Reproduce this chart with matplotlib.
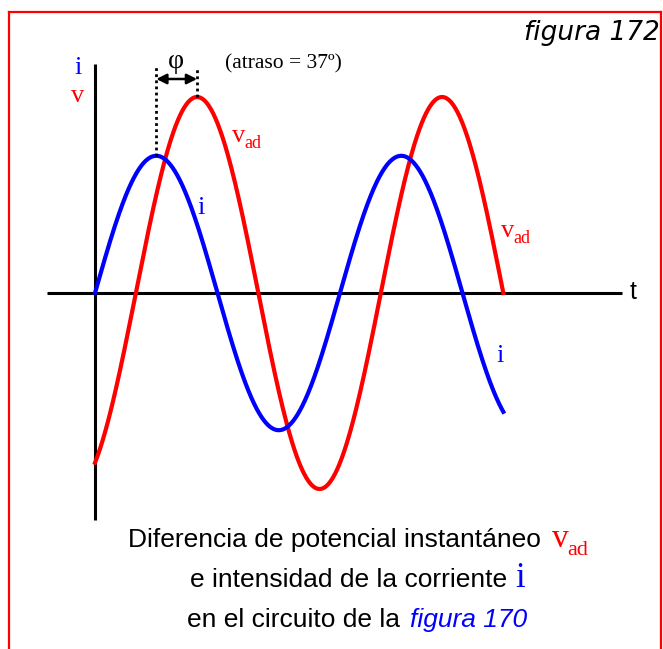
import numpy as np
import matplotlib
matplotlib.use("Agg")
import matplotlib.pyplot as plt

# ---- data ----
i_peak = 0.70          # current amplitude (relative)
v_peak = 1.00          # voltage amplitude (relative)
lag_deg = 60           # visual lag of v behind i (degrees)
t_end_deg = 600        # curves end angle (degrees)
lag_label = "(atraso = 37º)"

W, H = 663, 649
DPI = 100
fig = plt.figure(figsize=(W / DPI, H / DPI), dpi=DPI)
ax = fig.add_axes([0, 0, 1, 1])
ax.set_axis_off()

# pixel mapping for axes: origin at (95,293); 245 px per 360 deg; 196 px per unit
x0, y0, ppd, ppu = 95, 293, 245 / 360, 196
ax.set_xlim(-x0 / ppd, (W - x0) / ppd)
ax.set_ylim(-(H - y0) / ppu, y0 / ppu)

def fx(px):
    return px / W
def fy(py):
    return 1 - py / H

RED = "#ff0000"
BLUE = "#0000ff"

# border (open at bottom)
fig.add_artist(plt.Line2D([fx(9), fx(9)], [fy(649), fy(12)], color=RED, lw=1.6))
fig.add_artist(plt.Line2D([fx(9), fx(661)], [fy(12), fy(12)], color=RED, lw=1.6))
fig.add_artist(plt.Line2D([fx(661), fx(661)], [fy(12), fy(649)], color=RED, lw=1.6))

# axes lines
ax.plot([(47 - x0) / ppd, (622 - x0) / ppd], [0, 0], color="black", lw=2.2, solid_capstyle="butt")
ax.plot([0, 0], [-(520 - y0) / ppu, (y0 - 64) / ppu], color="black", lw=2.2, solid_capstyle="butt")

# curves
th = np.linspace(0, t_end_deg, 800)
i_curve = i_peak * np.sin(np.radians(th))
v_curve = v_peak * np.sin(np.radians(th - lag_deg))
ax.plot(th, v_curve, color=RED, lw=3.0)
ax.plot(th, i_curve, color=BLUE, lw=3.0)

# dotted lines at the peaks and phase arrow
ytop = (y0 - 67) / ppu
yarr = (y0 - 79) / ppu
ax.plot([90, 90], [i_peak, ytop], color="black", lw=2.0, ls=(0, (1, 1.2)))
ax.plot([90 + lag_deg, 90 + lag_deg], [v_peak, ytop], color="black", lw=2.0, ls=(0, (1, 1.2)))
ax.annotate("", xy=(90 + lag_deg, yarr), xytext=(90, yarr),
            arrowprops=dict(arrowstyle="<|-|>", color="black", lw=1.8,
                            mutation_scale=15, shrinkA=0, shrinkB=0))

serif = "Liberation Serif"
sans = "Liberation Sans"

fig.text(fx(176), fy(61), "φ", family=serif, fontsize=20, ha="center", va="center")
fig.text(fx(225), fy(64), lag_label, family=serif, fontsize=15.5, ha="left", va="center")

# axis labels
fig.text(fx(78), fy(68), "i", family=serif, fontsize=19, color=BLUE, ha="center", va="center")
fig.text(fx(78), fy(96), "v", family=serif, fontsize=19, color=RED, ha="center", va="center")
fig.text(fx(633), fy(292), "t", family=sans, fontsize=18, ha="center", va="center")

# curve labels
def vad(x, y, size=19, sub=13, color=RED):
    fig.text(fx(x), fy(y), "v", family=serif, fontsize=size, color=color, ha="left", va="baseline")
    fig.text(fx(x + size * 0.64), fy(y + size * 0.33), "ad", family=serif, fontsize=sub,
             color=color, ha="left", va="baseline")

vad(232, 142)
vad(501, 237)
fig.text(fx(201), fy(208), "i", family=serif, fontsize=19, color=BLUE, ha="center", va="center")
fig.text(fx(500), fy(356), "i", family=serif, fontsize=19, color=BLUE, ha="center", va="center")

# title
fig.text(fx(660), fy(33), "figura 172", family="DejaVu Sans", style="italic",
         fontsize=19, ha="right", va="center")

# caption
cap = 19.0
fig.text(fx(128), fy(547), "Diferencia de potencial instantáneo", family=sans,
         fontsize=cap, ha="left", va="baseline")
vad(552, 547, size=24, sub=16)
fig.text(fx(190), fy(587), "e intensidad de la corriente", family=sans,
         fontsize=cap, ha="left", va="baseline")
fig.text(fx(515), fy(587), "i", family=serif, fontsize=25, color=BLUE, ha="left", va="baseline")
fig.text(fx(187), fy(627), "en el circuito de la", family=sans,
         fontsize=cap, ha="left", va="baseline")
fig.text(fx(410), fy(627), "figura 170", family=sans, style="italic",
         fontsize=cap, color=BLUE, ha="left", va="baseline")

fig.savefig("out.png", dpi=DPI)
